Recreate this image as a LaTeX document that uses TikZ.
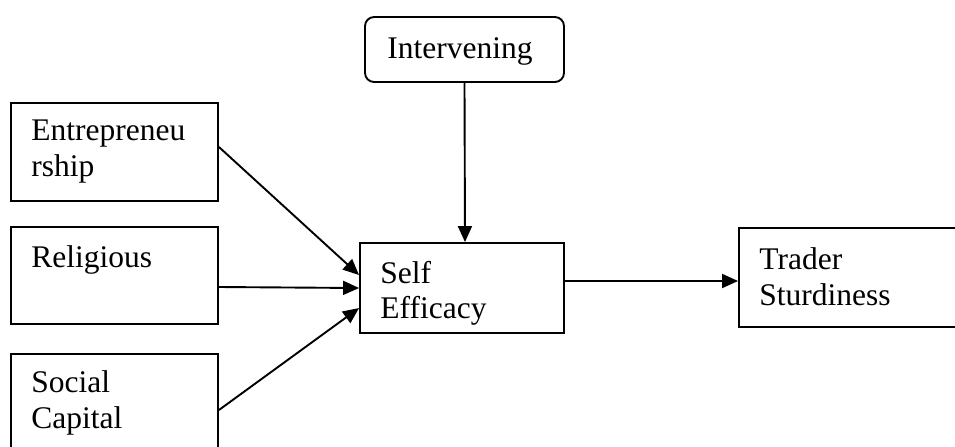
\documentclass[tikz,border=0pt]{standalone}
\usepackage{fontspec}
\setmainfont{Liberation Serif}
\usetikzlibrary{positioning,arrows.meta}
\tikzstyle{factor} = [draw,line width=0.95pt,rectangle,inner sep=0,minimum width=103.5pt,minimum height=48.5pt]
\tikzstyle{moderator} = [factor,rounded corners=.16cm]
\tikzstyle{caption} = [inner sep=0,align=left,font=\fontsize{15.75}{17.75}\selectfont]
\tikzstyle{link} = [-{Triangle[length=8pt,width=7pt]},line width=0.95pt]
\def \dx {10.5pt}

\begin{document}
\begin{tikzpicture}[x=0.5pt,y=-0.5pt]
      \clip (0,0) rectangle (955,446);
      % boxes
      \node[moderator,minimum width=99.5pt,minimum height=32.5pt] (int) at (464.5,49.5) {};
      \node[factor,minimum height=49pt] (ent) at (114.5,152) {};
      \node[factor] (rel) at (114.5,275.5) {};
      \node[factor] (soc) at (114.5,402.5) {};
      \node[factor,minimum width=102pt,minimum height=45pt] (se) at (462,288) {};
      \node[factor,minimum width=110pt,minimum height=49.5pt] (tr) at (849,277.5) {};
      % texts
      \node[caption,below right=10.75pt and 11.5pt of int.north west] (int-txt) {Intervening};
      \node[caption,below right=8.75pt and \dx of ent.north west] (ent-txt) {Entrepreneu\\rship};
      \node[caption,below right=9.75pt and \dx of rel.north west] (rel-txt) {Religious};
      \node[caption,below right=8.75pt and \dx of soc.north west] (soc-txt) {Social\\Capital};
      \node[caption,below right=9.25pt and \dx of se.north west] (se-txt) {Self\\Efficacy};
      \node[caption,below right=10.25pt and \dx of tr.north west] (tr-txt) {Trader\\Sturdiness};
      % links
      \draw[link] ([yshift=2.5pt]ent.east) -- ([yshift=6.5pt]se.west);
      \draw[link] ([yshift=-5.75pt]rel.east) -- (se.west);
      \draw[link] ([yshift=-3.75pt]soc.east) -- ([yshift=-10pt]se.west);
      \draw[link] (int.south) -- ([xshift=1.5pt]se.north);
      \draw[link] ([yshift=3.5pt]se.east) -- ([yshift=-1.75pt]tr.west);
\end{tikzpicture}
\end{document}
